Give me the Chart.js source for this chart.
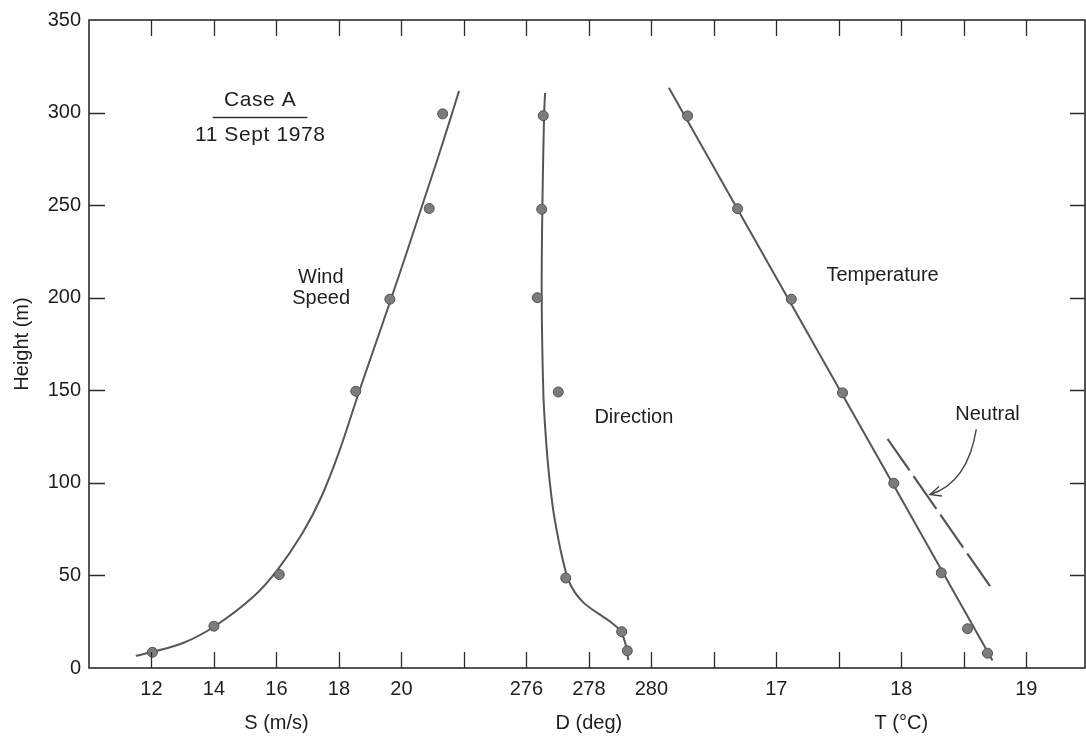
<!DOCTYPE html>
<html>
<head>
<meta charset="utf-8">
<script src="https://cdn.jsdelivr.net/npm/chart.js@4.4.1/dist/chart.umd.min.js"></script>
<style>
html,body{margin:0;padding:0;background:#fff;}
#wrap{width:1086px;height:738px;position:relative;}
</style>
</head>
<body>
<div id="wrap"><canvas id="c" width="1086" height="738"></canvas></div>
<script>
// ---------------- data ----------------
// Wind speed observations
const windHeights = [8.5, 22.6, 50.5, 149.5, 199.2, 248.2, 299.3];
const windSpeeds  = [12.03, 14.0, 16.09, 18.54, 19.63, 20.89, 21.32];
// Wind speed fitted curve
const windFitHeights = [6.6, 8.6, 13.5, 22.3, 38.5, 52.9, 72.9, 92.5, 117.8, 149.2, 173.9, 198.8, 225.8, 247.9, 274.4, 299.1, 311.7];
const windFitSpeeds  = [11.498, 12.017, 13.009, 14.001, 15.259, 16.027, 16.834, 17.439, 18.028, 18.643, 19.149, 19.657, 20.195, 20.627, 21.146, 21.613, 21.844];

// Wind direction observations
const dirHeights = [9.3, 19.6, 48.6, 149.1, 200.0, 247.8, 298.3];
const dirValues  = [279.23, 279.05, 277.26, 277.02, 276.35, 276.49, 276.54];
// Wind direction fitted curve
const dirFitHeights = [4.3, 9.0, 13.0, 17.3, 21.1, 24.3, 27.5, 31.3, 35.6, 41.1, 48.3, 58.3, 69.1, 85.3, 106.9, 128.6, 148.9, 199.7, 247.5, 298.0, 310.6];
const dirFitValues  = [279.263, 279.221, 279.173, 279.087, 278.949, 278.741, 278.469, 278.133, 277.813, 277.541, 277.326, 277.166, 277.029, 276.859, 276.709, 276.606, 276.542, 276.49, 276.51, 276.565, 276.597];

// Temperature observations
const tempHeights = [8.0, 21.2, 51.4, 99.8, 148.6, 199.2, 248.1, 298.2];
const tempValues  = [18.69, 18.53, 18.32, 17.94, 17.53, 17.12, 16.69, 16.29];
// Temperature fitted line
const tempFitHeights = [4.1, 99.8, 313.4];
const tempFitValues  = [18.73, 17.93, 16.14];

// Neutral (dashed) line
const neutralHeights = [44.2, 123.8];
const neutralTemps   = [18.71, 17.89];

// Axis ticks / labels (shared bottom axis divided into equal units)
const heightTickStep = 50;
const axisTickUnits  = [1, 2, 3, 4, 5, 6, 7, 8, 9, 10, 11, 12, 13, 14, 15];
const axisTickLabels = ['12', '14', '16', '18', '20', '', '276', '278', '280', '', '17', '', '18', '', '19'];
const axisTitleUnits = [3, 8, 13];
const axisTitles     = ['S (m/s)', 'D (deg)', 'T (\u00B0C)'];

// Axis ranges: each quantity maps onto the same unit axis
const unitSpan = 15.94;
const speedStart = 10,  speedPerUnit = 2;
const dirStart   = 262, dirPerUnit   = 2;
const tempStart  = 11.5, tempPerUnit = 0.5;

// Annotations (text placed in data coordinates of the matching axis)
const noteTexts  = ['Wind', 'Speed', 'Direction', 'Temperature', 'Neutral'];
const noteAxes   = ['xS', 'xS', 'xD', 'xT', 'xT'];
const noteXs     = [17.42, 17.43, 279.44, 17.85, 18.69];
const noteYs     = [210.9, 199.6, 135.3, 212.0, 136.9];
const caseTitle  = 'Case A';
const caseDate   = '11 Sept 1978';
const caseX = 15.48, caseTitleY = 306.7, caseDateY = 287.7;
const caseRuleFrom = 13.96, caseRuleTo = 16.99, caseRuleY = 297.7;
const arrowFrom = [18.60, 128.9], arrowCtrl = [18.53, 100.0], arrowTo = [18.23, 93.7];

// ---------------- chart ----------------
const pts = (xs, ys) => xs.map((v, i) => ({x: v, y: ys[i]}));
const FONT = "'Liberation Sans', Arial, Helvetica, sans-serif";
const LINE = '#565656';
const INK = '#1e1e1e';

Chart.defaults.font.family = FONT;
Chart.defaults.color = INK;

const lineDs = (label, xs, ys, axis, extra) => Object.assign({
  type: 'line', label, data: pts(xs, ys), xAxisID: axis, yAxisID: 'y',
  borderColor: LINE, borderWidth: 2, pointRadius: 0, tension: 0.3,
  fill: false, order: 2
}, extra || {});
const pointDs = (label, xs, ys, axis) => ({
  type: 'scatter', label, data: pts(xs, ys), xAxisID: axis, yAxisID: 'y',
  pointRadius: 5, pointBackgroundColor: '#7c7c7c', pointBorderColor: '#505050',
  pointBorderWidth: 1, showLine: false, order: 1
});

const decor = {
  id: 'decor',
  afterDraw(chart) {
    const {ctx, chartArea: a, scales} = chart;
    const ys = scales.y, xu = scales.x;
    ctx.save();
    // frame
    ctx.strokeStyle = '#2b2b2b';
    ctx.lineWidth = 1.6;
    ctx.strokeRect(a.left, a.top, a.right - a.left, a.bottom - a.top);
    // inward tick marks
    ctx.lineWidth = 1.3;
    ctx.beginPath();
    xu.ticks.forEach(t => {
      const px = Math.round(xu.getPixelForValue(t.value)) + 0.5;
      if (px <= a.left + 2 || px >= a.right - 2) return;
      ctx.moveTo(px, a.bottom); ctx.lineTo(px, a.bottom - 16);
      ctx.moveTo(px, a.top); ctx.lineTo(px, a.top + 16);
    });
    ys.ticks.forEach(t => {
      const py = Math.round(ys.getPixelForValue(t.value)) + 0.5;
      if (py <= a.top + 2 || py >= a.bottom - 2) return;
      ctx.moveTo(a.left, py); ctx.lineTo(a.left + 16, py);
      ctx.moveTo(a.right, py); ctx.lineTo(a.right - 15, py);
    });
    ctx.stroke();

    // text notes
    ctx.fillStyle = INK;
    ctx.textAlign = 'center';
    ctx.textBaseline = 'middle';
    ctx.font = '20px ' + FONT;
    noteTexts.forEach((txt, i) => {
      const sx = scales[noteAxes[i]];
      ctx.fillText(txt, sx.getPixelForValue(noteXs[i]), ys.getPixelForValue(noteYs[i]));
    });
    // case block
    const sS = scales.xS;
    ctx.font = '21px ' + FONT;
    try { ctx.letterSpacing = '0.6px'; } catch (e) {}
    ctx.fillText(caseTitle, sS.getPixelForValue(caseX), ys.getPixelForValue(caseTitleY));
    ctx.fillText(caseDate, sS.getPixelForValue(caseX), ys.getPixelForValue(caseDateY));
    try { ctx.letterSpacing = '0px'; } catch (e) {}
    ctx.strokeStyle = '#333';
    ctx.lineWidth = 1.5;
    ctx.beginPath();
    const ry = Math.round(ys.getPixelForValue(caseRuleY)) + 0.5;
    ctx.moveTo(sS.getPixelForValue(caseRuleFrom), ry);
    ctx.lineTo(sS.getPixelForValue(caseRuleTo), ry);
    ctx.stroke();

    // curved arrow to the neutral line
    const sT = scales.xT;
    const p0 = [sT.getPixelForValue(arrowFrom[0]), ys.getPixelForValue(arrowFrom[1])];
    const pc = [sT.getPixelForValue(arrowCtrl[0]), ys.getPixelForValue(arrowCtrl[1])];
    const p1 = [sT.getPixelForValue(arrowTo[0]), ys.getPixelForValue(arrowTo[1])];
    ctx.strokeStyle = '#444';
    ctx.lineWidth = 1.4;
    ctx.beginPath();
    ctx.moveTo(p0[0], p0[1]);
    ctx.quadraticCurveTo(pc[0], pc[1], p1[0], p1[1]);
    ctx.stroke();
    const ang = Math.atan2(p1[1] - pc[1], p1[0] - pc[0]);
    const hl = 12, spread = 0.42;
    ctx.beginPath();
    ctx.moveTo(p1[0] - hl * Math.cos(ang - spread), p1[1] - hl * Math.sin(ang - spread));
    ctx.lineTo(p1[0], p1[1]);
    ctx.lineTo(p1[0] - hl * Math.cos(ang + spread), p1[1] - hl * Math.sin(ang + spread));
    ctx.stroke();
    ctx.restore();
  }
};

const hiddenAxis = (start, perUnit) => ({
  type: 'linear', axis: 'x', position: 'bottom', display: false,
  min: start, max: start + perUnit * unitSpan
});

new Chart(document.getElementById('c'), {
  type: 'scatter',
  data: {
    datasets: [
      lineDs('Wind speed fit', windFitSpeeds, windFitHeights, 'xS'),
      pointDs('Wind speed', windSpeeds, windHeights, 'xS'),
      lineDs('Direction fit', dirFitValues, dirFitHeights, 'xD'),
      pointDs('Direction', dirValues, dirHeights, 'xD'),
      lineDs('Temperature fit', tempFitValues, tempFitHeights, 'xT', {tension: 0}),
      pointDs('Temperature', tempValues, tempHeights, 'xT'),
      lineDs('Neutral', neutralTemps, neutralHeights, 'xT', {tension: 0, borderDash: [40, 7], borderWidth: 2.2})
    ]
  },
  options: {
    responsive: false,
    animation: false,
    devicePixelRatio: 1,
    layout: {autoPadding: false, padding: {top: 20, right: 1, left: 0, bottom: 0}},
    plugins: {legend: {display: false}, tooltip: {enabled: false}},
    scales: {
      x: {
        type: 'linear', position: 'bottom', min: 0, max: unitSpan,
        grid: {display: false, drawTicks: false},
        border: {display: false},
        afterBuildTicks: s => { s.ticks = axisTickUnits.map(v => ({value: v})); },
        afterFit: s => { s.height = 70; s.paddingLeft = 0; s.paddingRight = 0; },
        ticks: {
          autoSkip: false, maxRotation: 0, minRotation: 0, padding: 4,
          color: INK, font: {size: 20, lineHeight: 1.7},
          callback: (v) => {
            const i = axisTickUnits.indexOf(v);
            const lab = i >= 0 ? axisTickLabels[i] : '';
            const t = axisTitleUnits.indexOf(v);
            return t >= 0 ? [lab, axisTitles[t]] : lab;
          }
        }
      },
      xS: hiddenAxis(speedStart, speedPerUnit),
      xD: hiddenAxis(dirStart, dirPerUnit),
      xT: hiddenAxis(tempStart, tempPerUnit),
      y: {
        type: 'linear', position: 'left', min: 0, max: 350,
        grid: {display: false, drawTicks: false},
        border: {display: false},
        afterFit: s => { s.width = 89; },
        ticks: {stepSize: heightTickStep, padding: 8, color: INK, font: {size: 20}},
        title: {display: true, text: 'Height (m)', color: INK, font: {size: 20}, padding: {top: 10, bottom: 0}}
      }
    }
  },
  plugins: [decor]
});
</script>
</body>
</html>
